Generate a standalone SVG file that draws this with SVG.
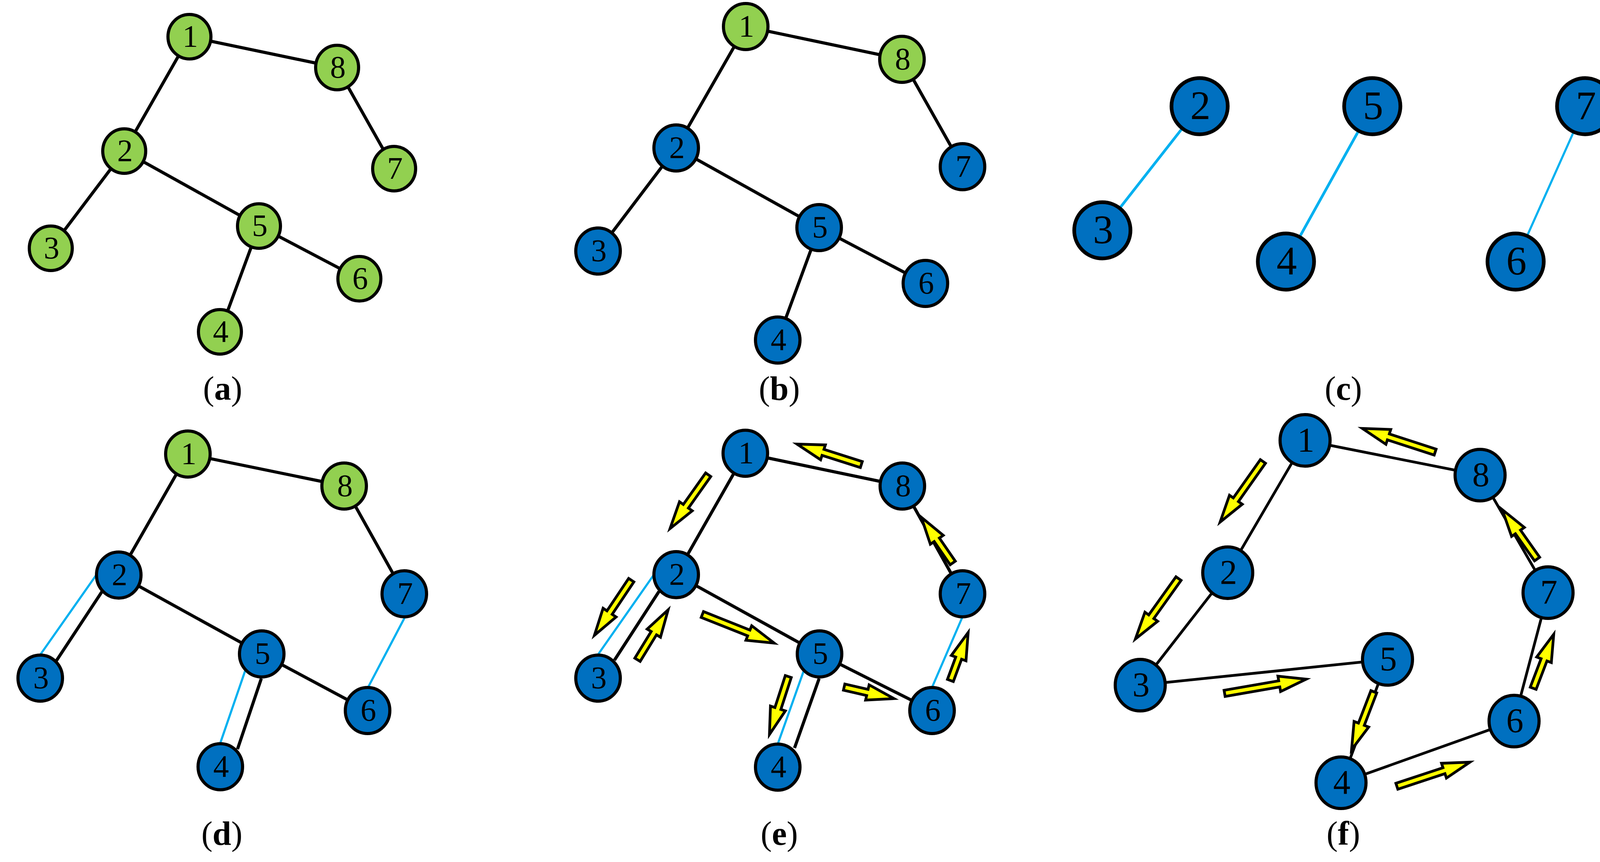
<svg xmlns="http://www.w3.org/2000/svg" width="4175" height="2208" viewBox="0 0 4175 2208">
<style>
.g{fill:#92D050;stroke:#000;stroke-width:8}
.b{fill:#0070C0;stroke:#000;stroke-width:8}
.bc{fill:#0070C0;stroke:#000;stroke-width:9.5}
.e{stroke:#000;stroke-width:8;fill:none}
.ef{stroke:#000;stroke-width:7;fill:none}
.l{stroke:#00B0F0;stroke-width:5.5;fill:none}
.lc{stroke:#00B0F0;stroke-width:7;fill:none}
.ar{fill:#FFFF00;stroke:#000;stroke-width:7;stroke-linejoin:miter}
text{font-family:"Liberation Serif","Times New Roman",serif;fill:#000;text-anchor:middle}
.n{font-size:80px}
.nc{font-size:104px}
.nf{font-size:88px}
.cap{font-size:86px}
</style>
<rect width="4175" height="2208" fill="#fff"/>

<!-- Panel a -->
<g id="a-edges">
<line class="e" x1="485" y1="94" x2="863" y2="173"/>
<line class="e" x1="485" y1="94" x2="318" y2="387"/>
<line class="e" x1="863" y1="173" x2="1009" y2="432"/>
<line class="e" x1="318" y1="387" x2="130" y2="636"/>
<line class="e" x1="318" y1="387" x2="663" y2="579"/>
<line class="e" x1="663" y1="579" x2="920" y2="714"/>
<line class="e" x1="663" y1="579" x2="563" y2="850"/>
</g>
<g id="a-n1"><ellipse class="g" cx="485" cy="94" rx="55" ry="57"/><text class="n" x="487" y="120">1</text></g>
<g id="a-n8"><ellipse class="g" cx="863" cy="173" rx="55" ry="57"/><text class="n" x="865" y="199">8</text></g>
<g id="a-n2"><ellipse class="g" cx="318" cy="387" rx="55" ry="57"/><text class="n" x="320" y="413">2</text></g>
<g id="a-n7"><ellipse class="g" cx="1009" cy="432" rx="55" ry="57"/><text class="n" x="1011" y="458">7</text></g>
<g id="a-n3"><ellipse class="g" cx="130" cy="636" rx="55" ry="57"/><text class="n" x="132" y="662">3</text></g>
<g id="a-n5"><ellipse class="g" cx="663" cy="579" rx="55" ry="57"/><text class="n" x="665" y="605">5</text></g>
<g id="a-n6"><ellipse class="g" cx="920" cy="714" rx="55" ry="57"/><text class="n" x="922" y="740">6</text></g>
<g id="a-n4"><ellipse class="g" cx="563" cy="850" rx="55" ry="57"/><text class="n" x="565" y="876">4</text></g>
<text class="cap" x="570" y="1024">(<tspan font-weight="bold">a</tspan>)</text>

<!-- Panel b -->
<g id="b-edges">
<line class="e" x1="1909" y1="68" x2="2309" y2="152"/>
<line class="e" x1="1909" y1="68" x2="1731" y2="379"/>
<line class="e" x1="2309" y1="152" x2="2464" y2="427"/>
<line class="e" x1="1731" y1="379" x2="1531" y2="643"/>
<line class="e" x1="1731" y1="379" x2="2097" y2="583"/>
<line class="e" x1="2097" y1="583" x2="2369" y2="726"/>
<line class="e" x1="2097" y1="583" x2="1991" y2="871"/>
</g>
<g id="b-n1"><ellipse class="g" cx="1909" cy="68" rx="57" ry="59"/><text class="n" x="1911" y="94">1</text></g>
<g id="b-n8"><ellipse class="g" cx="2309" cy="152" rx="57" ry="59"/><text class="n" x="2311" y="178">8</text></g>
<g id="b-n2"><ellipse class="b" cx="1731" cy="379" rx="57" ry="59"/><text class="n" x="1733" y="405">2</text></g>
<g id="b-n7"><ellipse class="b" cx="2464" cy="427" rx="57" ry="59"/><text class="n" x="2466" y="453">7</text></g>
<g id="b-n3"><ellipse class="b" cx="1531" cy="643" rx="57" ry="59"/><text class="n" x="1533" y="669">3</text></g>
<g id="b-n5"><ellipse class="b" cx="2097" cy="583" rx="57" ry="59"/><text class="n" x="2099" y="609">5</text></g>
<g id="b-n6"><ellipse class="b" cx="2369" cy="726" rx="57" ry="59"/><text class="n" x="2371" y="752">6</text></g>
<g id="b-n4"><ellipse class="b" cx="1991" cy="871" rx="57" ry="59"/><text class="n" x="1993" y="897">4</text></g>
<text class="cap" x="1995" y="1024">(<tspan font-weight="bold">b</tspan>)</text>

<!-- Panel c -->
<g id="c-edges">
<line class="lc" x1="3071" y1="272" x2="2822" y2="590"/>
<line class="lc" x1="3513" y1="272" x2="3292" y2="670"/>
<line class="l" x1="4058" y1="272" x2="3880" y2="670"/>
</g>
<g id="c-n2"><ellipse class="bc" cx="3071" cy="272" rx="72" ry="72"/><text class="nc" x="3073" y="305">2</text></g>
<g id="c-n3"><ellipse class="bc" cx="2822" cy="590" rx="72" ry="72"/><text class="nc" x="2824" y="623">3</text></g>
<g id="c-n5"><ellipse class="bc" cx="3513" cy="272" rx="72" ry="72"/><text class="nc" x="3515" y="305">5</text></g>
<g id="c-n4"><ellipse class="bc" cx="3292" cy="670" rx="72" ry="72"/><text class="nc" x="3294" y="703">4</text></g>
<g id="c-n7"><ellipse class="bc" cx="4058" cy="272" rx="72" ry="72"/><text class="nc" x="4060" y="305">7</text></g>
<g id="c-n6"><ellipse class="bc" cx="3880" cy="670" rx="72" ry="72"/><text class="nc" x="3882" y="703">6</text></g>
<text class="cap" x="3439" y="1024">(<tspan font-weight="bold">c</tspan>)</text>

<!-- Panel d -->
<g id="d-edges">
<line class="e" x1="481" y1="1163" x2="881" y2="1245"/>
<line class="e" x1="481" y1="1163" x2="304" y2="1473"/>
<line class="e" x1="881" y1="1245" x2="1035" y2="1521"/>
<line class="e" x1="304" y1="1473" x2="670" y2="1675"/>
<line class="e" x1="670" y1="1675" x2="941" y2="1820"/>
<line class="l" x1="247" y1="1472" x2="101" y2="1680"/>
<line class="e" x1="262" y1="1514" x2="144" y2="1693"/>
<line class="l" x1="628" y1="1717" x2="563" y2="1906"/>
<line class="e" x1="669" y1="1738" x2="608" y2="1919"/>
<line class="l" x1="1037" y1="1580" x2="941" y2="1763"/>
</g>
<g id="d-n1"><ellipse class="g" cx="481" cy="1163" rx="57" ry="59"/><text class="n" x="483" y="1189">1</text></g>
<g id="d-n8"><ellipse class="g" cx="881" cy="1245" rx="57" ry="59"/><text class="n" x="883" y="1271">8</text></g>
<g id="d-n2"><ellipse class="b" cx="304" cy="1473" rx="57" ry="59"/><text class="n" x="306" y="1499">2</text></g>
<g id="d-n7"><ellipse class="b" cx="1035" cy="1521" rx="57" ry="59"/><text class="n" x="1037" y="1547">7</text></g>
<g id="d-n3"><ellipse class="b" cx="103" cy="1737" rx="57" ry="59"/><text class="n" x="105" y="1763">3</text></g>
<g id="d-n5"><ellipse class="b" cx="670" cy="1675" rx="57" ry="59"/><text class="n" x="672" y="1701">5</text></g>
<g id="d-n6"><ellipse class="b" cx="941" cy="1820" rx="57" ry="59"/><text class="n" x="943" y="1846">6</text></g>
<g id="d-n4"><ellipse class="b" cx="564" cy="1964" rx="57" ry="59"/><text class="n" x="566" y="1990">4</text></g>
<text class="cap" x="568" y="2164">(<tspan font-weight="bold">d</tspan>)</text>

<!-- Panel e -->
<g id="e-edges">
<line class="e" x1="1908" y1="1161" x2="2310" y2="1245"/>
<line class="e" x1="1908" y1="1161" x2="1731" y2="1472"/>
<line class="e" x1="2310" y1="1245" x2="2464" y2="1521"/>
<line class="e" x1="1731" y1="1472" x2="2098" y2="1675"/>
<line class="e" x1="2098" y1="1675" x2="2386" y2="1820"/>
<line class="l" x1="1674" y1="1472" x2="1530" y2="1678"/>
<line class="e" x1="1687" y1="1515" x2="1573" y2="1691"/>
<line class="l" x1="2058" y1="1717" x2="1991" y2="1906"/>
<line class="e" x1="2097" y1="1738" x2="2034" y2="1916"/>
<line class="l" x1="2464" y1="1580" x2="2385" y2="1763"/>
</g>
<g id="e-arrows">
<path class="ar" transform="translate(2205,1190) rotate(197.7)" d="M0,-8 H103 V-20 L173,0 L103,20 V8 H0 Z"/>
<path class="ar" transform="translate(1813,1216) rotate(125.3)" d="M0,-8 H99 V-20 L169,0 L99,20 V8 H0 Z"/>
<path class="ar" transform="translate(1616,1486) rotate(123.7)" d="M0,-8 H100 V-20 L170,0 L100,20 V8 H0 Z"/>
<path class="ar" transform="translate(1632,1690) rotate(-58.5)" d="M0,-8 H80 V-20 L150,0 L80,20 V8 H0 Z"/>
<path class="ar" transform="translate(1798,1574) rotate(21.7)" d="M0,-8 H128 V-20 L198,0 L128,20 V8 H0 Z"/>
<path class="ar" transform="translate(2018,1733) rotate(108)" d="M0,-8 H86 V-20 L156,0 L86,20 V8 H0 Z"/>
<path class="ar" transform="translate(2161,1760) rotate(13)" d="M0,-8 H61 V-20 L131,0 L61,20 V8 H0 Z"/>
<path class="ar" transform="translate(2433,1743) rotate(-69.7)" d="M0,-8 H61 V-20 L131,0 L61,20 V8 H0 Z"/>
<path class="ar" transform="translate(2439,1442) rotate(-124.5)" d="M0,-8 H72 V-20 L142,0 L72,20 V8 H0 Z"/>
</g>
<g id="e-n1"><ellipse class="b" cx="1908" cy="1161" rx="57" ry="59"/><text class="n" x="1910" y="1187">1</text></g>
<g id="e-n8"><ellipse class="b" cx="2310" cy="1245" rx="57" ry="59"/><text class="n" x="2312" y="1271">8</text></g>
<g id="e-n2"><ellipse class="b" cx="1731" cy="1472" rx="57" ry="59"/><text class="n" x="1733" y="1498">2</text></g>
<g id="e-n7"><ellipse class="b" cx="2464" cy="1521" rx="57" ry="59"/><text class="n" x="2466" y="1547">7</text></g>
<g id="e-n3"><ellipse class="b" cx="1531" cy="1737" rx="57" ry="59"/><text class="n" x="1533" y="1763">3</text></g>
<g id="e-n5"><ellipse class="b" cx="2098" cy="1675" rx="57" ry="59"/><text class="n" x="2100" y="1701">5</text></g>
<g id="e-n6"><ellipse class="b" cx="2386" cy="1820" rx="57" ry="59"/><text class="n" x="2388" y="1846">6</text></g>
<g id="e-n4"><ellipse class="b" cx="1991" cy="1965" rx="57" ry="59"/><text class="n" x="1993" y="1991">4</text></g>
<text class="cap" x="1995" y="2164">(<tspan font-weight="bold">e</tspan>)</text>

<!-- Panel f -->
<g id="f-edges">
<line class="ef" x1="3341" y1="1128" x2="3143" y2="1467"/>
<line class="ef" x1="3341" y1="1128" x2="3789" y2="1217"/>
<line class="ef" x1="3789" y1="1217" x2="3963" y2="1518"/>
<line class="ef" x1="3143" y1="1467" x2="2919" y2="1755"/>
<line class="ef" x1="2919" y1="1755" x2="3552" y2="1689"/>
<line class="ef" x1="3552" y1="1689" x2="3433" y2="2005"/>
<line class="ef" x1="3433" y1="2005" x2="3876" y2="1847"/>
<line class="ef" x1="3876" y1="1847" x2="3963" y2="1518"/>
</g>
<g id="f-arrows">
<path class="ar" transform="translate(3674,1158) rotate(198)" d="M0,-8 H126 V-20 L196,0 L126,20 V8 H0 Z"/>
<path class="ar" transform="translate(3233,1182) rotate(125.2)" d="M0,-8 H120 V-20 L190,0 L120,20 V8 H0 Z"/>
<path class="ar" transform="translate(3017,1482) rotate(125.5)" d="M0,-8 H120 V-20 L190,0 L120,20 V8 H0 Z"/>
<path class="ar" transform="translate(3135,1776) rotate(-9.85)" d="M0,-8 H142 V-20 L212,0 L142,20 V8 H0 Z"/>
<path class="ar" transform="translate(3517,1772) rotate(111)" d="M0,-8 H89 V-20 L159,0 L89,20 V8 H0 Z"/>
<path class="ar" transform="translate(3576,2014) rotate(-18.3)" d="M0,-8 H127 V-20 L197,0 L127,20 V8 H0 Z"/>
<path class="ar" transform="translate(3925,1763) rotate(-69.2)" d="M0,-8 H78 V-20 L148,0 L78,20 V8 H0 Z"/>
<path class="ar" transform="translate(3935,1432) rotate(-125.2)" d="M0,-8 H85 V-20 L155,0 L85,20 V8 H0 Z"/>
</g>
<g id="f-n1"><ellipse class="b" cx="3341" cy="1128" rx="64" ry="66"/><text class="nf" x="3343" y="1156">1</text></g>
<g id="f-n8"><ellipse class="b" cx="3789" cy="1217" rx="64" ry="66"/><text class="nf" x="3791" y="1245">8</text></g>
<g id="f-n2"><ellipse class="b" cx="3143" cy="1467" rx="64" ry="66"/><text class="nf" x="3145" y="1495">2</text></g>
<g id="f-n7"><ellipse class="b" cx="3963" cy="1518" rx="64" ry="66"/><text class="nf" x="3965" y="1546">7</text></g>
<g id="f-n3"><ellipse class="b" cx="2919" cy="1755" rx="64" ry="66"/><text class="nf" x="2921" y="1783">3</text></g>
<g id="f-n5"><ellipse class="b" cx="3552" cy="1689" rx="64" ry="66"/><text class="nf" x="3554" y="1717">5</text></g>
<g id="f-n6"><ellipse class="b" cx="3876" cy="1847" rx="64" ry="66"/><text class="nf" x="3878" y="1875">6</text></g>
<g id="f-n4"><ellipse class="b" cx="3433" cy="2005" rx="64" ry="66"/><text class="nf" x="3435" y="2033">4</text></g>
<text class="cap" x="3439" y="2164">(<tspan font-weight="bold">f</tspan>)</text>
</svg>
